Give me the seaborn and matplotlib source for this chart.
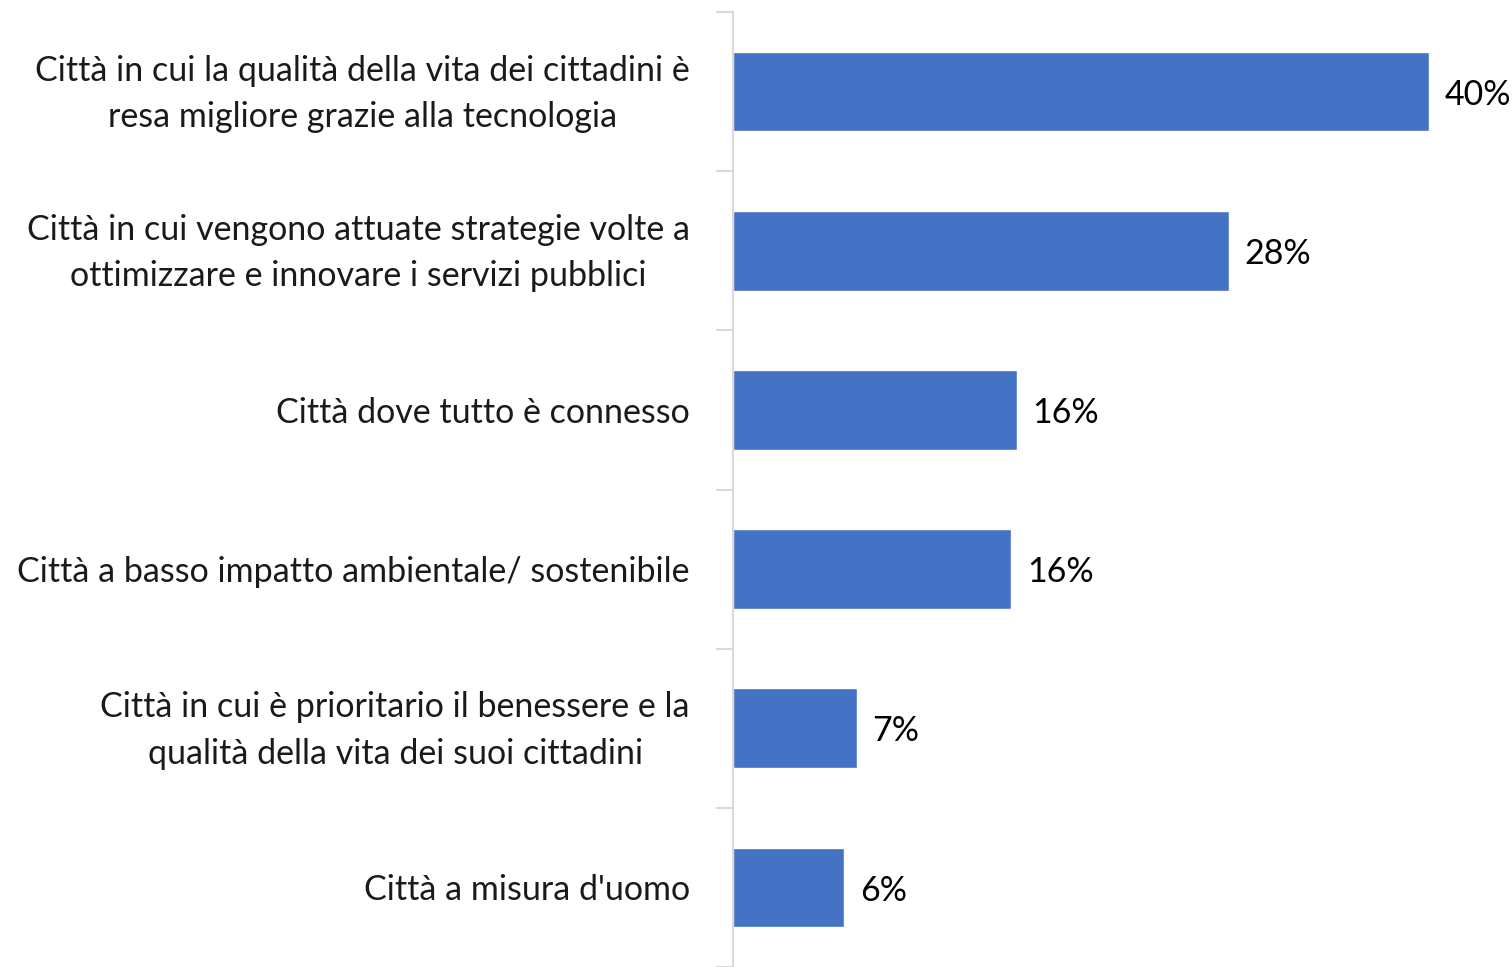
import matplotlib
matplotlib.use("Agg")
import matplotlib.pyplot as plt
import matplotlib.transforms as mtransforms
import seaborn as sns
import pandas as pd
import numpy as np

# dati
categorie = [
    "Città in cui la qualità della vita dei cittadini è\nresa migliore grazie alla tecnologia",
    "Città in cui vengono attuate strategie volte a\nottimizzare e innovare i servizi pubblici",
    "Città dove tutto è connesso",
    "Città a basso impatto ambientale/ sostenibile",
    "Città in cui è prioritario il benessere e la\nqualità della vita dei suoi cittadini",
    "Città a misura d'uomo",
]
valori = [40.0, 28.5, 16.3, 16.0, 7.1, 6.4]

df = pd.DataFrame({"categoria": categorie, "valore": valori})

sns.set_theme(style="white")
plt.rcParams["font.family"] = ["Lato", "DejaVu Sans"]

fig = plt.figure(figsize=(15.12, 9.67), dpi=100)
ax = fig.add_axes([733 / 1512, 0.0, 1 - 733 / 1512, 1 - 12 / 967])

sns.barplot(data=df, x="valore", y="categoria", color="#4472C4", saturation=1,
            width=0.5, ax=ax, orient="h")

ax.set_xlim(0, (1512 - 733) / 17.4)
ax.set_ylim(len(categorie) - 0.5, -0.5)
ax.set_xlabel("")
ax.set_ylabel("")
ax.set_xticks([])

for s in ["top", "right", "bottom"]:
    ax.spines[s].set_visible(False)
ax.spines["left"].set_color("#d9d9d9")
ax.spines["left"].set_linewidth(1.5)

# tacche ai bordi delle categorie
ax.set_yticks(np.arange(-0.5, len(categorie), 1), minor=True)
ax.tick_params(axis="y", which="minor", length=12, width=1.5, color="#d9d9d9", left=True)
ax.tick_params(axis="y", which="major", length=0, pad=31, labelsize=24.5, labelcolor="#1a1a1a")
shift_up = mtransforms.ScaledTranslation(0, 0.08, fig.dpi_scale_trans)
for lab in ax.get_yticklabels():
    lab.set_multialignment("center")
    lab.set_linespacing(1.55)
    if "\n" in lab.get_text():
        lab.set_transform(lab.get_transform() + shift_up)

for i, v in enumerate(valori):
    ax.text(v + 0.9, i + 0.02, f"{round(v):.0f}%", va="center", ha="left",
            fontsize=24.5, color="#000000")

fig.savefig("out.png", dpi=100)
